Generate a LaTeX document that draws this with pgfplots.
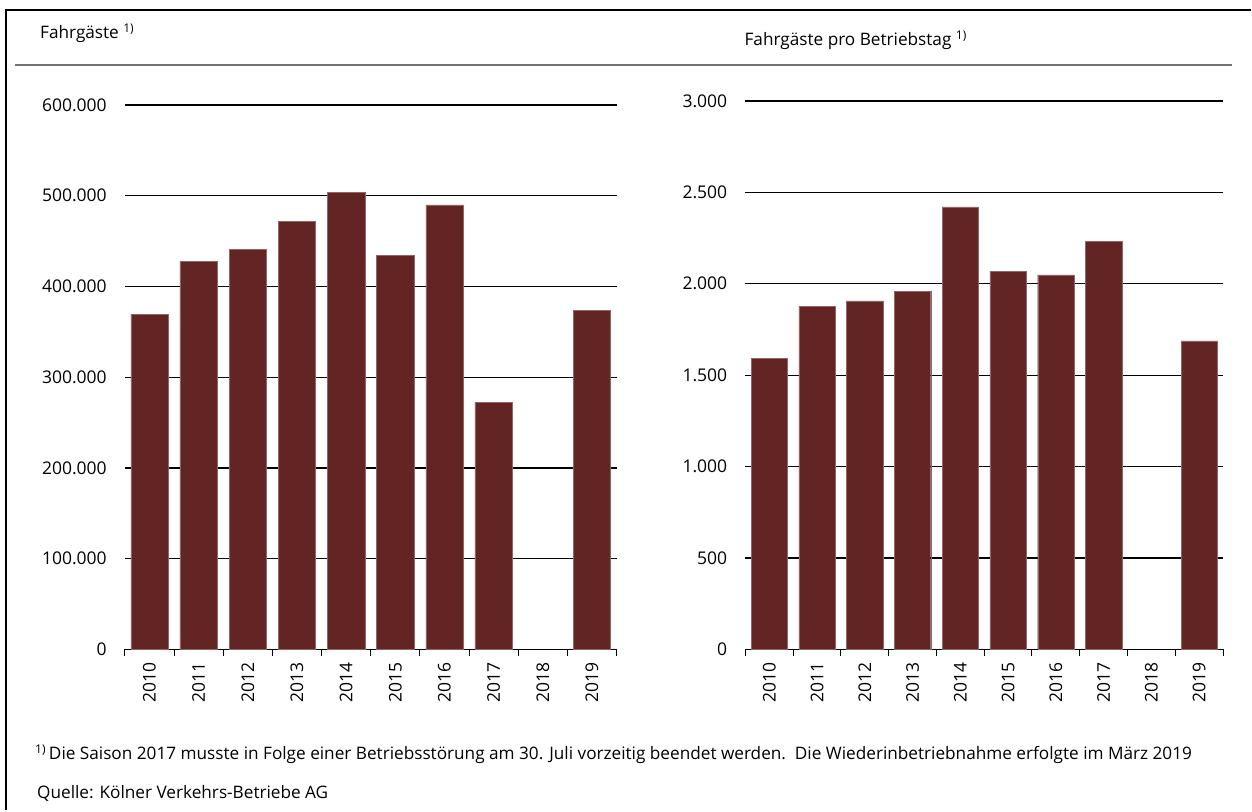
\documentclass[border=0pt]{standalone}
\usepackage{fontspec}
\setmainfont{Open Sans}
\usepackage{pgfplots}
\pgfplotsset{compat=1.18}
\definecolor{barc}{RGB}{99,36,36}
\pgfplotsset{
  mystyle/.style={
    scale only axis,
    anchor=south west,
    xmin=-0.5, xmax=9.5, ymin=0,
    axis x line*=bottom, axis y line*=left,
    y axis line style={draw=none},
    x axis line style={line width=1.2pt},
    ytick style={draw=none},
    xtick={0,...,9},
    xticklabels={2010,2011,2012,2013,2014,2015,2016,2017,2018,2019},
    major x tick style={draw=none},
    minor xtick={-0.5,0.5,...,9.5},
    minor x tick style={black, line width=1pt},
    minor tick length=7pt,
    tick align=outside,
    xticklabel style={rotate=90, anchor=east, font=\fontsize{17.5}{20}\selectfont},
    xticklabel shift=3pt,
    yticklabel style={anchor=east, xshift=-8pt, font=\fontsize{17.5}{20}\selectfont},
    ymajorgrids,
    major grid style={black, line width=1.2pt},
    scaled y ticks=false,
    /pgf/number format/.cd, fixed, 1000 sep={.}, assume math mode=true,
  }
}
\begin{document}
\fontsize{17.2}{20}\selectfont
\begin{tikzpicture}
\path (0pt,0pt) rectangle (1252pt,811pt);
\draw[line width=2pt] (6pt,0pt) -- (6pt,801pt) -- (1252pt,801pt);
\draw[line width=1.5pt, black!55] (15pt,746pt) -- (1233pt,746pt);
\node[anchor=base west, inner sep=0pt] at (40pt,772pt) {Fahrgäste \textsuperscript{1)}};
\node[anchor=base west, inner sep=0pt] at (745pt,765pt) {Fahrgäste pro Betriebstag \textsuperscript{1)}};

\begin{axis}[mystyle, at={(125pt,161pt)}, width=492pt, height=545pt,
  ymax=600000, ytick={0,100000,...,600000}]
\addplot[ybar, bar width=0.76, fill=barc, draw=barc!70!white, line width=0.4pt] coordinates {
(0,369500) (1,428000) (2,440500) (3,472000) (4,503500) (5,434500) (6,490000) (7,272500) (9,373500)};
\end{axis}

\begin{axis}[mystyle, at={(746pt,161pt)}, width=478pt, height=549pt,
  ymax=3000, ytick={0,500,...,3000}]
\addplot[ybar, bar width=0.76, fill=barc, draw=barc!70!white, line width=0.4pt] coordinates {
(0,1591) (1,1877) (2,1906) (3,1959) (4,2421) (5,2069) (6,2049) (7,2232) (9,1688)};
\end{axis}

\node[anchor=base west, inner sep=0pt] at (35pt,51pt) {\textsuperscript{1)}\,Die Saison 2017 musste in Folge einer Betriebsstörung am 30. Juli vorzeitig beendet werden.\ \ Die Wiederinbetriebnahme erfolgte im März 2019};
\node[anchor=base west, inner sep=0pt] at (37pt,12pt) {Quelle: Kölner Verkehrs-Betriebe AG};
\end{tikzpicture}
\end{document}
